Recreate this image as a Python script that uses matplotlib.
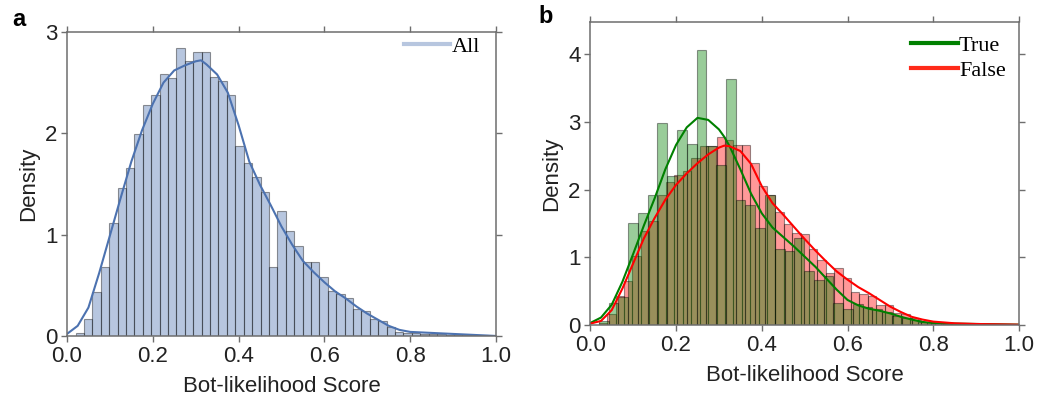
import numpy as np
import matplotlib
matplotlib.use("Agg")
import matplotlib.pyplot as plt
from matplotlib.lines import Line2D
from matplotlib.colors import to_rgba

# panel a: all accounts, 50 bins from 0.02 to 1.0
all_hist = [0.03, 0.17, 0.43, 0.68, 1.11, 1.46, 1.66, 1.99, 2.28, 2.38,
            2.58, 2.55, 2.84, 2.71, 2.80, 2.80, 2.56, 2.52, 2.38, 1.87,
            1.71, 1.57, 1.42, 0.68, 1.23, 1.04, 0.89, 0.73, 0.73, 0.58,
            0.44, 0.41, 0.37, 0.27, 0.25, 0.17, 0.15, 0.09, 0.04, 0.03,
            0.03, 0.02, 0.02, 0.015, 0.01, 0.01, 0.005, 0.005, 0.005, 0.003]
kde_x = [0.0, 0.025, 0.05, 0.075, 0.1, 0.125, 0.15, 0.175, 0.2, 0.225,
         0.25, 0.275, 0.3, 0.3125, 0.325, 0.35, 0.375, 0.4, 0.425, 0.45,
         0.475, 0.5, 0.525, 0.55, 0.575, 0.6, 0.625, 0.65, 0.675, 0.7,
         0.725, 0.75, 0.775, 0.8, 0.85, 0.9, 0.95, 1.0]
all_kde = [0.02, 0.10, 0.28, 0.62, 0.99, 1.36, 1.72, 2.03, 2.29, 2.50,
           2.62, 2.67, 2.71, 2.72, 2.68, 2.58, 2.40, 2.08, 1.72, 1.49,
           1.29, 1.08, 0.90, 0.74, 0.63, 0.53, 0.44, 0.37, 0.29, 0.22,
           0.16, 0.10, 0.06, 0.04, 0.03, 0.02, 0.01, 0.0]

# panel b: True (43 bins) and False (50 bins)
true_hist = [0.06, 0.33, 0.41, 1.50, 1.65, 1.92, 2.98, 2.20, 2.88, 2.67,
             4.06, 2.65, 2.37, 3.64, 1.85, 1.78, 1.44, 1.92, 1.12, 1.09,
             1.28, 0.80, 0.67, 0.73, 0.32, 0.23, 0.31, 0.27, 0.23, 0.19,
             0.14, 0.11, 0.07, 0.05, 0.03, 0.02, 0.02, 0.01, 0.01, 0.01,
             0.01, 0.005, 0.005]
false_hist = [0.03, 0.16, 0.43, 0.65, 1.02, 1.39, 1.54, 1.92, 2.11, 2.21,
              2.28, 2.47, 2.65, 2.65, 2.77, 2.73, 2.66, 2.66, 2.40, 2.05,
              1.92, 1.67, 1.49, 1.36, 1.35, 1.12, 0.96, 0.77, 0.84, 0.69,
              0.49, 0.46, 0.43, 0.30, 0.29, 0.17, 0.16, 0.10, 0.05, 0.04,
              0.03, 0.02, 0.02, 0.01, 0.01, 0.01, 0.005, 0.005, 0.005, 0.005]
true_kde = [0.03, 0.11, 0.30, 0.64, 1.05, 1.47, 1.87, 2.30, 2.66, 2.92,
            3.06, 3.03, 2.89, 2.78, 2.64, 2.30, 1.94, 1.65, 1.44, 1.30,
            1.16, 1.01, 0.86, 0.69, 0.52, 0.37, 0.29, 0.24, 0.21, 0.17,
            0.12, 0.08, 0.045, 0.03, 0.02, 0.015, 0.01, 0.005]
false_kde = [0.02, 0.06, 0.22, 0.54, 0.91, 1.28, 1.58, 1.85, 2.07, 2.24,
             2.39, 2.52, 2.62, 2.65, 2.64, 2.57, 2.38, 2.05, 1.80, 1.63,
             1.45, 1.27, 1.10, 0.94, 0.79, 0.67, 0.56, 0.47, 0.37, 0.27,
             0.19, 0.12, 0.08, 0.05, 0.025, 0.015, 0.01, 0.005]

blue = "#4c72b0"
spine_col = "#6e6e6e"
plt.rcParams["font.family"] = ["Liberation Sans", "DejaVu Sans"]

fig = plt.figure(figsize=(10.4, 3.99), dpi=100)
ax1 = fig.add_axes([0.0644, 0.158, 0.4125, 0.762])
ax2 = fig.add_axes([0.5676, 0.1855, 0.4122, 0.760])


def draw_hist(ax, heights, color):
    edges = np.linspace(0.02, 1.0, len(heights) + 1)
    ax.bar(edges[:-1], heights, width=np.diff(edges), align="edge",
           color=to_rgba(color, 0.4), edgecolor=(0, 0, 0, 0.4), linewidth=0.8)


def style(ax, ymax, yticks):
    ax.set_xlim(0, 1)
    ax.set_ylim(0, ymax)
    ax.set_xticks([0, 0.2, 0.4, 0.6, 0.8, 1.0])
    ax.set_xticklabels(["0.0", "0.2", "0.4", "0.6", "0.8", "1.0"])
    ax.set_yticks(yticks)
    ax.tick_params(direction="out", length=4, width=1, color=spine_col,
                   labelsize=16, labelcolor="#222222", pad=3,
                   top=True, right=True)
    for s in ax.spines.values():
        s.set_color(spine_col)
        s.set_linewidth(1.1)
    ax.set_xlabel("Bot-likelihood Score", fontsize=16, color="#222222", labelpad=6.5)
    ax.set_ylabel("Density", fontsize=16, color="#222222", labelpad=4)


# panel a
draw_hist(ax1, all_hist, blue)
ax1.plot(kde_x, all_kde, color=blue, lw=1.5)
style(ax1, 3, [0, 1, 2, 3])
h = [Line2D([], [], color=to_rgba(blue, 0.4), lw=3)]
ax1.legend(h, ["All"], loc="upper right", bbox_to_anchor=(0.973, 1.0),
           frameon=False, prop={"family": "Liberation Serif", "size": 16},
           handlelength=2.1, handletextpad=0.05, borderaxespad=0,
           borderpad=0.2)

# panel b
draw_hist(ax2, false_hist, "red")
draw_hist(ax2, true_hist, "green")
ax2.plot(kde_x, true_kde, color="green", lw=1.5)
ax2.plot(kde_x, false_kde, color="red", lw=1.5)
style(ax2, 4.48, [0, 1, 2, 3, 4])
h = [Line2D([], [], color="green", lw=3), Line2D([], [], color="#ff2a1a", lw=3)]
ax2.legend(h, ["True", "False"], loc="upper right", frameon=False,
           prop={"family": "Liberation Serif", "size": 16},
           handlelength=2.1, handletextpad=0.05, labelspacing=0.2,
           borderaxespad=0.4, borderpad=0.2)

fig.text(0.012, 0.95, "a", fontsize=17, fontweight="bold", va="center")
fig.text(0.518, 0.958, "b", fontsize=17, fontweight="bold", va="center")

fig.savefig("out.png", dpi=100)
